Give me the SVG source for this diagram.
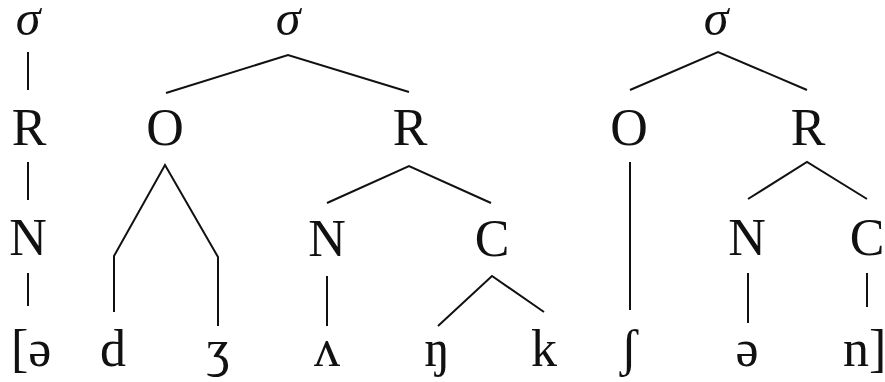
<svg xmlns="http://www.w3.org/2000/svg" width="885" height="382" viewBox="0 0 885 382">
<style>
text{font-family:"Liberation Serif","DejaVu Serif",serif;font-size:52px;fill:#111;text-anchor:middle}
.sig{font-style:italic;font-size:50px}
.st{text-anchor:start}
#edges path,#edges line{stroke:#111;stroke-width:2;fill:none;stroke-linecap:butt;stroke-linejoin:miter}
</style>
<rect width="885" height="382" fill="#fff"/>
<g id="edges">
<line x1="28" y1="52" x2="28" y2="90"/>
<path d="M166 93 L288 55 L409 92"/>
<path d="M630 90 L718 52 L807 90"/>
<line x1="28" y1="162" x2="28" y2="200"/>
<path d="M114 312 L114 256 L165 165 L218 257 L218 326"/>
<path d="M327 203 L409 166 L491 203"/>
<line x1="630" y1="162" x2="630" y2="310"/>
<path d="M748 199 L807 162 L867 199"/>
<line x1="28" y1="273" x2="28" y2="306"/>
<line x1="327" y1="276" x2="327" y2="326"/>
<path d="M438 326 L492 276 L544 312"/>
<line x1="748" y1="273" x2="748" y2="323"/>
<line x1="867" y1="273" x2="867" y2="307"/>
</g>
<g id="sigma1"><text class="sig" x="28" y="35">σ</text></g>
<g id="sigma2"><text class="sig" x="288" y="35">σ</text></g>
<g id="sigma3"><text class="sig" x="716" y="35">σ</text></g>
<g id="R1"><text x="29" y="145">R</text></g>
<g id="O1"><text x="165" y="145">O</text></g>
<g id="R2"><text x="410" y="145">R</text></g>
<g id="O2"><text x="629" y="145">O</text></g>
<g id="R3"><text x="808" y="145">R</text></g>
<g id="N1"><text x="28" y="255">N</text></g>
<g id="N2"><text x="327" y="256">N</text></g>
<g id="C1"><text x="492" y="256">C</text></g>
<g id="N3"><text x="747" y="255">N</text></g>
<g id="C2"><text x="867" y="255">C</text></g>
<g id="seg-schwa1"><text class="st" x="11" y="366">[ə</text></g>
<g id="seg-d"><text x="113" y="366">d</text></g>
<g id="seg-zh"><text x="218" y="366">ʒ</text></g>
<g id="seg-wedge"><text x="327" y="366">ʌ</text></g>
<g id="seg-eng"><text x="437" y="366">ŋ</text></g>
<g id="seg-k"><text x="544" y="366">k</text></g>
<g id="seg-esh"><text x="629" y="366">ʃ</text></g>
<g id="seg-schwa2"><text x="747" y="366">ə</text></g>
<g id="seg-n"><text class="st" x="843" y="366">n]</text></g>
</svg>
